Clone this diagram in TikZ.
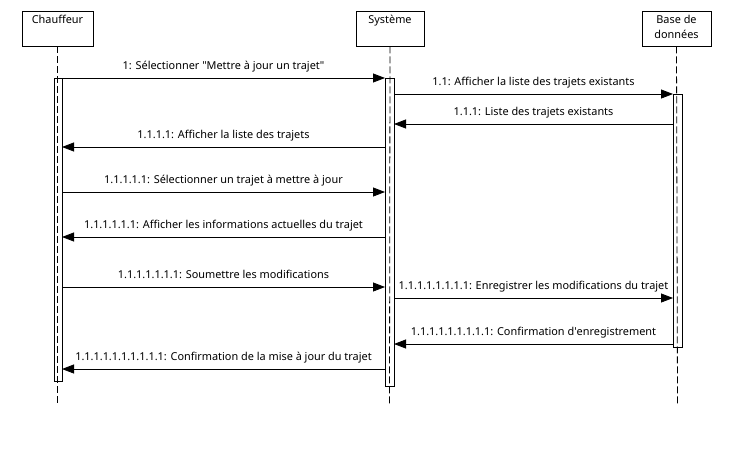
\documentclass[tikz,border=0pt]{standalone}
\usepackage{fontspec}
\setmainfont[Ligatures=NoCommon]{Noto Sans}
\usetikzlibrary{arrows.meta}
\begin{document}
\begin{tikzpicture}[x=1pt,y=-1pt,
  actor/.style={draw,line width=0.8pt,rectangle,minimum height=35pt,inner sep=0pt},
  lifeline/.style={line width=0.8pt,dash pattern=on 7pt off 3pt},
  bar/.style={draw,line width=0.8pt},
  msg/.style={line width=0.8pt,-{Triangle[length=12pt,width=9pt]}},
  lbl/.style={anchor=base,yshift=9pt,font=\fontsize{10.9}{13}\selectfont,inner sep=0pt},
  ttl/.style={anchor=north,font=\fontsize{10.9}{15.5}\selectfont,align=center,inner sep=0pt,yshift=-4pt}]
\useasboundingbox (0,0) rectangle (733,448);
% actors
\node[actor,minimum width=71pt,label={[ttl]north:Chauffeur}] (ch) at (57.5,28.5) {};
\node[actor,minimum width=68pt,label={[ttl]north:Système}] (sy) at (390,28.5) {};
\node[actor,minimum width=69pt,label={[ttl]north:Base de\\données}] (db) at (676.5,28.5) {};
% lifeline ends
\coordinate (chE) at (57.5,405);
\coordinate (syE) at (389.5,405);
\coordinate (dbE) at (677.5,405);
\draw[lifeline] (ch.south) -- (chE);
\draw[lifeline] (sy.south) -- (syE);
\draw[lifeline] (db.south) -- (dbE);
% activation bars
\draw[bar] (54,78) rectangle (62,381);
\draw[bar] (385,78) rectangle (394,386);
\draw[bar] (673,94) rectangle (682,347);
% message endpoints
\foreach \n/\y in {1/78,4/147,5/192,6/237,7/287,10/369}{
  \coordinate (cR\n) at (62,\y);
  \coordinate (sL\n) at (385,\y);
}
\foreach \n/\y in {2/94,3/124,8/298,9/344}{
  \coordinate (sR\n) at (394,\y);
  \coordinate (dL\n) at (673,\y);
}
\draw[msg] (cR1) -- (sL1) node[lbl,midway] {1: Sélectionner \textquotedbl Mettre à jour un trajet\textquotedbl};
\draw[msg] (sR2) -- (dL2) node[lbl,midway] {1.1: Afficher la liste des trajets existants};
\draw[msg] (dL3) -- (sR3) node[lbl,midway] {1.1.1: Liste des trajets existants};
\draw[msg] (sL4) -- (cR4) node[lbl,midway] {1.1.1.1: Afficher la liste des trajets};
\draw[msg] (cR5) -- (sL5) node[lbl,midway] {1.1.1.1.1: Sélectionner un trajet à mettre à jour};
\draw[msg] (sL6) -- (cR6) node[lbl,midway] {1.1.1.1.1.1: Afficher les informations actuelles du trajet};
\draw[msg] (cR7) -- (sL7) node[lbl,midway] {1.1.1.1.1.1.1: Soumettre les modifications};
\draw[msg] (sR8) -- (dL8) node[lbl,midway] {1.1.1.1.1.1.1.1: Enregistrer les modifications du trajet};
\draw[msg] (dL9) -- (sR9) node[lbl,midway] {1.1.1.1.1.1.1.1.1: Confirmation d\textquotesingle enregistrement};
\draw[msg] (sL10) -- (cR10) node[lbl,midway] {1.1.1.1.1.1.1.1.1.1: Confirmation de la mise à jour du trajet};
\end{tikzpicture}
\end{document}
